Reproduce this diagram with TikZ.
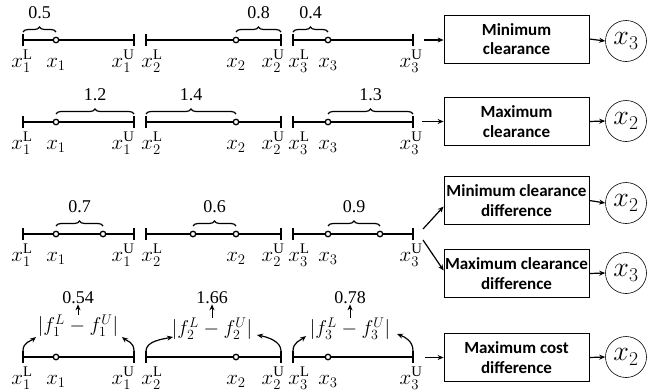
\RequirePackage{fix-cm}
\documentclass[tikz,border=0pt]{standalone}
\usepackage{fontspec}
\setmainfont{Liberation Serif}
\newfontfamily\boxfont{Carlito}
\usetikzlibrary{decorations.pathreplacing,arrows.meta}
\newcommand\mkseg[4]{%
  \coordinate (#1L) at (#2,#4);
  \coordinate (#1U) at (#3,#4);
  \draw[segline] (#1L) -- (#1U);
  \draw[segline] ([yshift=6pt]#1L) -- ([yshift=-6pt]#1L);
  \draw[segline] ([yshift=6pt]#1U) -- ([yshift=-6pt]#1U);}
\begin{document}
\begin{tikzpicture}[x=1pt,y=-1pt,
 segline/.style={line width=1.4pt},
 dotmark/.style={circle,draw,line width=1.3pt,inner sep=0pt,minimum size=5.5pt,fill=white},
 lab/.style={font=\fontsize{21}{23}\selectfont,inner sep=0pt,anchor=base},
 num/.style={font=\fontsize{18}{20}\selectfont,inner sep=0pt},
 brc/.style={decorate,decoration={brace,amplitude=5pt},line width=1.2pt},
 bx/.style={draw,line width=0.8pt,minimum width=145pt,minimum height=48pt,align=center,font=\boxfont\bfseries\fontsize{17}{19.5}\selectfont,inner sep=1pt},
 var/.style={draw,circle,line width=0.6pt,minimum size=41pt,inner sep=0pt,font=\fontsize{28}{30}\selectfont},
 arr/.style={-{Stealth[length=6pt,width=5pt]},line width=1.2pt},
 absx/.style={font=\fontsize{20}{22}\selectfont,inner sep=0pt}]
\useasboundingbox (0,0) rectangle (655,391);

% ---------- Row 1 ----------
\mkseg{aa}{23}{134}{40}
\mkseg{ab}{146}{281}{40}
\mkseg{ac}{293}{413}{40}
\node[dotmark] (ad1) at (56,40) {};
\node[dotmark] (ad2) at (236,40) {};
\node[dotmark] (ad3) at (328,40) {};
\draw[brc] (23,32) -- (56,32);
\node[num] (an1) at (39.5,13) {0.5};
\draw[brc] (236,32) -- (281,32);
\node[num] (an2) at (258.5,13) {0.8};
\draw[brc] (293,32) -- (328,32);
\node[num] (an3) at (310.5,13) {0.4};
\node[lab] at (22,67) {$x_1^{\mathrm{L}}$};
\node[lab] at (56,67) {$x_1$};
\node[lab] at (123,67) {$x_1^{\mathrm{U}}$};
\node[lab] at (152,67) {$x_2^{\mathrm{L}}$};
\node[lab] at (236,67) {$x_2$};
\node[lab] at (273,67) {$x_2^{\mathrm{U}}$};
\node[lab] at (299,67) {$x_3^{\mathrm{L}}$};
\node[lab] at (328,67) {$x_3$};
\node[lab] at (411,67) {$x_3^{\mathrm{U}}$};
\node[bx] (b1) at (516.5,39) {Minimum\\clearance};
\node[var] (v1) at (626,41) {$x_3$};
\coordinate (s1) at (424,40);
\draw[arr] (s1) -- (s1 -| b1.west);
\draw[arr] (b1.east) -- (v1.west);

% ---------- Row 2 ----------
\mkseg{ba}{23}{134}{122}
\mkseg{bb}{146}{281}{122}
\mkseg{bc}{293}{413}{122}
\node[dotmark] (bd1) at (56,122) {};
\node[dotmark] (bd2) at (236,122) {};
\node[dotmark] (bd3) at (328,122) {};
\draw[brc] (56,114) -- (134,114);
\node[num] (bn1) at (95,95) {1.2};
\draw[brc] (146,114) -- (236,114);
\node[num] (bn2) at (191,95) {1.4};
\draw[brc] (328,114) -- (413,114);
\node[num] (bn3) at (370.5,95) {1.3};
\node[lab] at (22,149) {$x_1^{\mathrm{L}}$};
\node[lab] at (56,149) {$x_1$};
\node[lab] at (123,149) {$x_1^{\mathrm{U}}$};
\node[lab] at (152,149) {$x_2^{\mathrm{L}}$};
\node[lab] at (236,149) {$x_2$};
\node[lab] at (273,149) {$x_2^{\mathrm{U}}$};
\node[lab] at (299,149) {$x_3^{\mathrm{L}}$};
\node[lab] at (328,149) {$x_3$};
\node[lab] at (411,149) {$x_3^{\mathrm{U}}$};
\node[bx] (b2) at (516.5,121.5) {Maximum\\clearance};
\node[var] (v2) at (626,121) {$x_2$};
\coordinate (s2) at (422,121.5);
\draw[arr] (s2) -- (b2.west);
\draw[arr] (b2.east) -- (v2.west);

% ---------- Row 3 ----------
\mkseg{ca}{23}{134}{234}
\mkseg{cb}{146}{281}{234}
\mkseg{cc}{293}{413}{234}
\node[dotmark] (cd1) at (56,234) {};
\node[dotmark] (cd1b) at (103,234) {};
\node[dotmark] (cd2b) at (193,234) {};
\node[dotmark] (cd2) at (236,234) {};
\node[dotmark] (cd3) at (328,234) {};
\node[dotmark] (cd3b) at (380,234) {};
\draw[brc] (56,226) -- (103,226);
\node[num] (cn1) at (79.5,207) {0.7};
\draw[brc] (193,226) -- (236,226);
\node[num] (cn2) at (214.5,207) {0.6};
\draw[brc] (328,226) -- (380,226);
\node[num] (cn3) at (354,207) {0.9};
\node[lab] at (22,261) {$x_1^{\mathrm{L}}$};
\node[lab] at (56,261) {$x_1$};
\node[lab] at (123,261) {$x_1^{\mathrm{U}}$};
\node[lab] at (152,261) {$x_2^{\mathrm{L}}$};
\node[lab] at (236,261) {$x_2$};
\node[lab] at (273,261) {$x_2^{\mathrm{U}}$};
\node[lab] at (299,261) {$x_3^{\mathrm{L}}$};
\node[lab] at (328,261) {$x_3$};
\node[lab] at (411,261) {$x_3^{\mathrm{U}}$};
\node[bx] (b3) at (516.5,200.5) {Minimum clearance\\difference};
\node[bx] (b4) at (516.5,273.5) {Maximum clearance\\difference};
\node[var] (v3) at (626,203) {$x_2$};
\node[var] (v4) at (626,273) {$x_3$};
\coordinate (s3a) at (423,229);
\coordinate (s3b) at (423,240);
\draw[arr] (s3a) -- ([yshift=-6pt]b3.west);
\draw[arr] (s3b) -- ([yshift=3pt]b4.west);
\draw[arr] (b3.east) -- (v3.west);
\draw[arr] (b4.east) -- (v4.west);

% ---------- Row 4 ----------
\mkseg{da}{23}{134}{357}
\mkseg{db}{146}{281}{357}
\mkseg{dc}{293}{413}{357}
\node[dotmark] (dd1) at (56,357) {};
\node[dotmark] (dd2) at (236,357) {};
\node[dotmark] (dd3) at (328,357) {};
\node[lab] at (22,384) {$x_1^{\mathrm{L}}$};
\node[lab] at (56,384) {$x_1$};
\node[lab] at (123,384) {$x_1^{\mathrm{U}}$};
\node[lab] at (152,384) {$x_2^{\mathrm{L}}$};
\node[lab] at (236,384) {$x_2$};
\node[lab] at (273,384) {$x_2^{\mathrm{U}}$};
\node[lab] at (299,384) {$x_3^{\mathrm{L}}$};
\node[lab] at (328,384) {$x_3$};
\node[lab] at (411,384) {$x_3^{\mathrm{U}}$};
\node[absx] (f1) at (78,326) {$\Bigl|f_1^{L}-f_1^{U}\Bigr|$};
\node[absx] (f2) at (212,329) {$\Bigl|f_2^{L}-f_2^{U}\Bigr|$};
\node[absx] (f3) at (350,329) {$\Bigl|f_3^{L}-f_3^{U}\Bigr|$};
\node[num] (dn1) at (78,298) {0.54};
\node[num] (dn2) at (212,298) {1.66};
\node[num] (dn3) at (350,298) {0.78};
\draw[arr,line width=1pt] (f1.north) -- (dn1.south);
\draw[arr,line width=1pt] (f2.north) -- (dn2.south);
\draw[arr,line width=1pt] (f3.north) -- (dn3.south);
% curved arrows
\coordinate (e1a) at (36,337);
\coordinate (e1b) at (122,337);
\coordinate (e2a) at (173,337);
\coordinate (e2b) at (257,335);
\coordinate (e3a) at (306,336);
\coordinate (e3b) at (397,334);
\draw[arr] ([yshift=6pt]daL) .. controls +(0,-9) and +(-5,4) .. (e1a);
\draw[arr] ([yshift=6pt]daU) .. controls +(0,-9) and +(5,4) .. (e1b);
\draw[arr] ([yshift=6pt]dbL) .. controls +(0,-10) and +(-10,2) .. (e2a);
\draw[arr] ([yshift=6pt]dbU) .. controls +(0,-10) and +(10,2) .. (e2b);
\draw[arr] ([yshift=6pt]dcL) .. controls +(0,-9) and +(-5,4) .. (e3a);
\draw[arr] ([yshift=6pt]dcU) .. controls +(0,-10) and +(8,3) .. (e3b);
\node[bx] (b5) at (516.5,357.5) {Maximum cost\\difference};
\node[var] (v5) at (626,357) {$x_2$};
\coordinate (s4) at (425,357.5);
\draw[arr] (s4) -- (b5.west);
\draw[arr] (b5.east) -- (v5.west);
\end{tikzpicture}
\end{document}
